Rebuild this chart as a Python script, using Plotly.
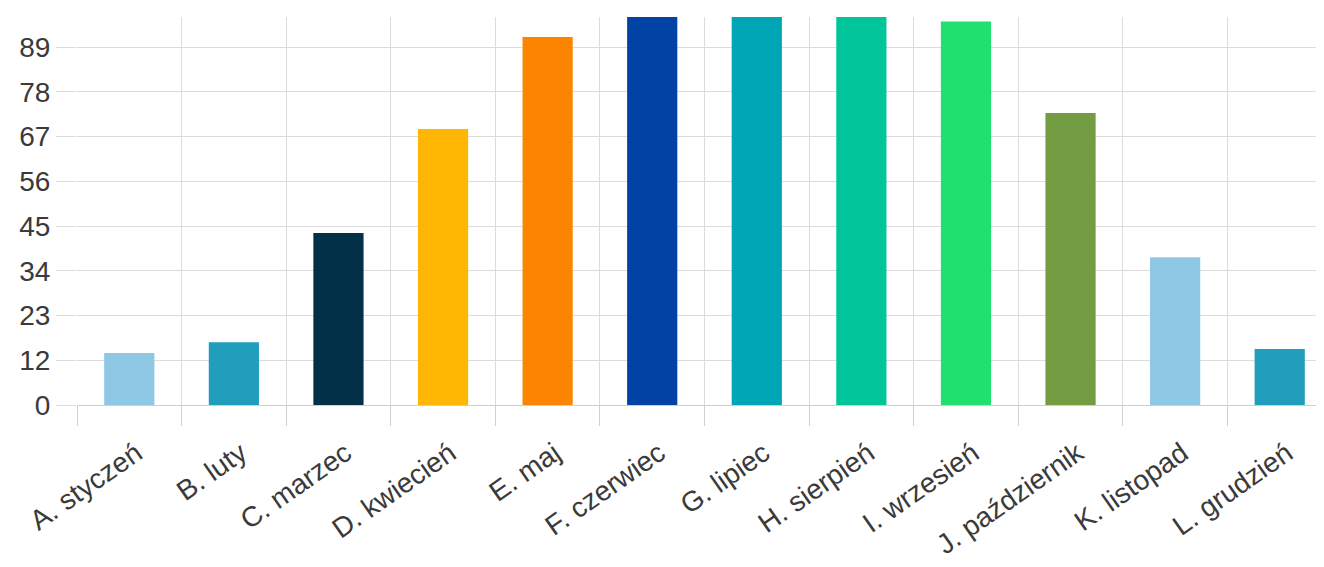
import math
import plotly.graph_objects as go

categories = ["A. styczeń", "B. luty", "C. marzec", "D. kwiecień", "E. maj", "F. czerwiec",
              "G. lipiec", "H. sierpień", "I. wrzesień", "J. październik", "K. listopad", "L. grudzień"]
values = [12.9, 15.6, 42.7, 68.5, 91.4, 98, 97, 99, 95.2, 72.5, 36.7, 13.9]
colors = ["#8fc8e5", "#219ebc", "#023047", "#ffb703", "#fb8500", "#0043a4",
          "#00a6b5", "#00c49a", "#20e070", "#739c43", "#8fc8e5", "#219ebc"]
tick_step = 100 / 9
tick_vals = [i * tick_step for i in range(9)]
tick_text = [str(math.ceil(round(v, 6))) for v in tick_vals]

n = len(categories)
boundaries = [i - 0.5 for i in range(n + 1)]

fig = go.Figure(go.Bar(
    x=categories, y=values, width=0.48,
    marker=dict(color=colors, line=dict(width=0)),
))
# empty helper trace so that the boundary-grid axis is drawn
fig.add_trace(go.Scatter(x=[], y=[], xaxis="x2", yaxis="y", showlegend=False, hoverinfo="skip"))

font = dict(family="Liberation Sans, Arial, sans-serif", size=28, color="#3a3a3a")
grid = "#dcdcdc"
fig.update_layout(
    width=1324, height=567,
    margin=dict(l=69, r=0, t=9, b=170, autoexpand=False),
    plot_bgcolor="white", paper_bgcolor="white",
    font=font, showlegend=False,
    xaxis=dict(
        range=[-0.5, n - 0.5], showgrid=False,
        ticks="outside", ticklen=20, tickcolor="rgba(0,0,0,0)", tickangle=-35,
        ticklabelstandoff=0, ticklabelshift=7,
        showline=False, tickfont=font, automargin=False,
    ),
    xaxis2=dict(
        overlaying="x", anchor="y", side="bottom",
        range=[-0.5, n - 0.5], tickvals=boundaries, showticklabels=False,
        showgrid=True, gridcolor=grid, gridwidth=1,
        ticks="outside", ticklen=20, tickcolor="#d0d0d0", tickwidth=1,
        zeroline=False, showline=False, automargin=False,
    ),
    yaxis=dict(
        range=[0, 96.34], tickvals=tick_vals, ticktext=tick_text,
        showgrid=True, gridcolor=grid, gridwidth=1,
        ticks="outside", ticklen=20, tickcolor=grid,
        zeroline=True, zerolinecolor="#cfcfcf", zerolinewidth=1,
        showline=False, tickfont=font, automargin=False,
    ),
)
fig.write_html("out.html")
